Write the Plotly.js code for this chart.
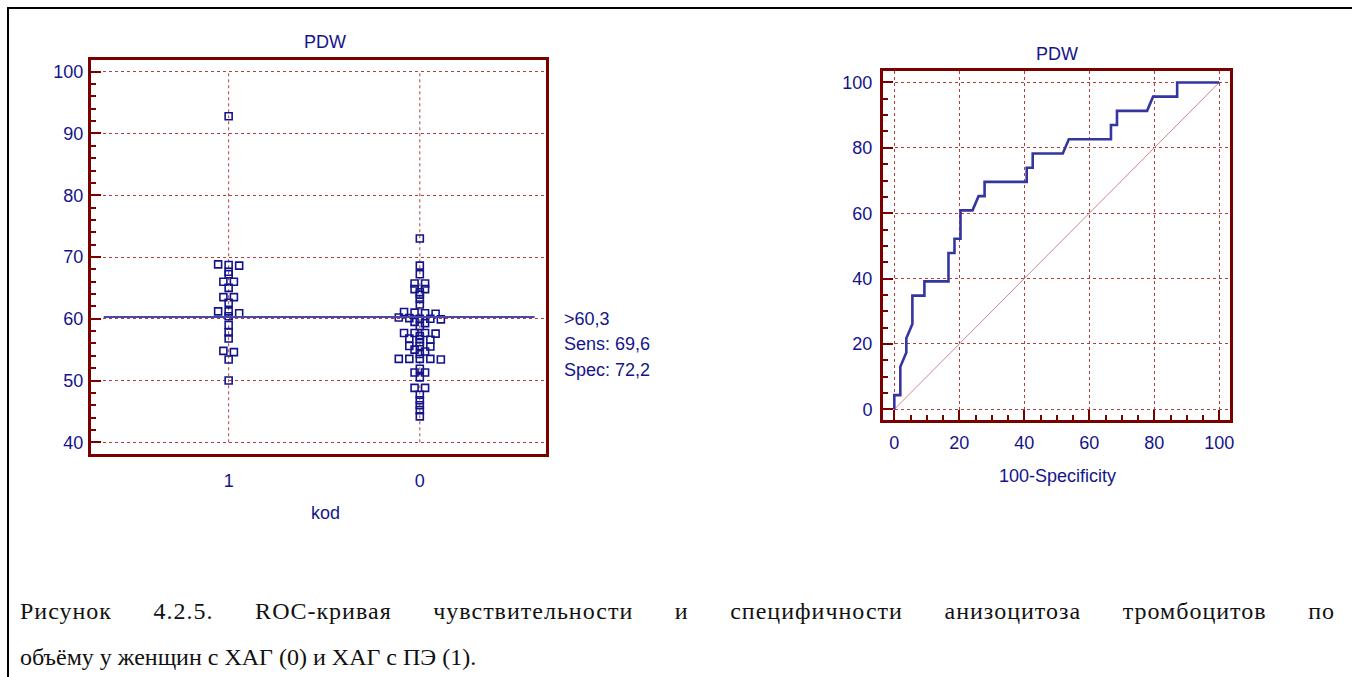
<!DOCTYPE html>
<html><head><meta charset="utf-8">
<script src="https://cdn.plot.ly/plotly-3.0.1.min.js"></script>
<style>
body{margin:0;background:#fff;}
#wrap{position:relative;width:1352px;height:677px;overflow:hidden;background:#fff;}
#chart{position:absolute;left:0;top:0;width:1352px;height:677px;}
#border{position:absolute;left:7px;top:7px;width:1400px;height:700px;border-left:2px solid #000;border-top:2px solid #000;pointer-events:none;}
.cap{position:absolute;left:20px;font-family:"Liberation Serif","Times New Roman",serif;font-size:24px;color:#111;line-height:28px;}
#cap1{top:597px;width:1315px;text-align:justify;text-align-last:justify;letter-spacing:1px;}
#cap2{top:643px;white-space:nowrap;}
</style></head>
<body>
<div id="wrap">
<div id="chart"></div>
<div id="border"></div>
<div class="cap" id="cap1">Рисунок 4.2.5. ROC-кривая чувствительности и специфичности анизоцитоза тромбоцитов по</div>
<div class="cap" id="cap2">объёму у женщин с ХАГ (0) и ХАГ с ПЭ (1).</div>
</div>
<script>
// ---- data ----
const kodLabels = ['1', '0'];
const group1 = [92.8, 68.8, 68.7, 68.6, 67.6, 67.2, 66.0, 66.0, 65.0, 63.5, 63.5, 62.6, 61.2, 61.2, 60.9, 60.4, 59.0, 57.8, 56.8, 54.8, 54.6, 53.4, 50.0];
const group0 = [73.0, 68.6, 67.2, 65.7, 65.7, 64.8, 64.8, 64.3, 63.9, 63.2, 62.3, 61.1, 61.0, 60.9, 60.8, 60.2, 60.1, 60.0, 60.0, 59.9, 59.5, 59.3, 58.8, 57.7, 57.7, 57.7, 57.6, 57.2, 56.8, 56.7, 56.6, 56.2, 55.6, 55.6, 55.5, 55.0, 54.7, 54.3, 53.5, 53.5, 53.5, 53.5, 53.4, 51.9, 51.3, 51.3, 50.5, 48.8, 48.8, 47.7, 46.8, 46.0, 45.2, 44.2];
const criterion = 60.3;
const criterionText = ['>60,3', 'Sens: 69,6', 'Spec: 72,2'];
const leftYTicks = [40, 50, 60, 70, 80, 90, 100];
const rocX = [0, 0, 1.85, 1.85, 3.7, 3.7, 5.56, 5.56, 9.26, 9.26, 16.67, 16.67, 18.52, 18.52, 20.37, 20.37, 24.07, 25.93, 27.78, 27.78, 40.74, 40.74, 42.59, 42.59, 51.85, 53.7, 66.67, 66.67, 68.52, 68.52, 77.78, 79.63, 87.04, 87.04, 100];
const rocY = [0, 4.35, 4.35, 13.04, 17.39, 21.74, 26.09, 34.78, 34.78, 39.13, 39.13, 47.83, 47.83, 52.17, 52.17, 60.87, 60.87, 65.22, 65.22, 69.57, 69.57, 73.91, 73.91, 78.26, 78.26, 82.61, 82.61, 86.96, 86.96, 91.3, 91.3, 95.65, 95.65, 100, 100];
const chanceX = [0, 100];
const chanceY = [0, 100];
const rocTicks = [0, 20, 40, 60, 80, 100];

// ---- styles ----
const NAVY = '#14148a';
const FRAME = '#7a0000';
const GRID = '#b04040';
const FONT = 'Liberation Sans, Arial, sans-serif';
const W = 1352, H = 677;
const px = v => v / W, py = v => 1 - v / H;

// dot-plot layout: cluster close values into rows, spread horizontally
function swarm(values, center, step, tol) {
  const sorted = values.slice().sort((a, b) => b - a);
  const rows = [];
  sorted.forEach(v => {
    const r = rows[rows.length - 1];
    if (r && r[0] - v <= tol + 1e-9) r.push(v); else rows.push([v]);
  });
  const xs = [], ys = [];
  rows.forEach(r => r.forEach((v, i) => { xs.push(center + (i - (r.length - 1) / 2) * step); ys.push(v); }));
  return {x: xs, y: ys};
}
const s1 = swarm(group1, 1, 0.055, 0.35);
const s0 = swarm(group0, 2, 0.055, 0.35);

const marker = {symbol: 'square-open', size: 7, color: NAVY, line: {width: 1.6, color: NAVY}};
const traces = [
  {x: s1.x, y: s1.y, type: 'scatter', mode: 'markers', marker, xaxis: 'x', yaxis: 'y', hoverinfo: 'y'},
  {x: s0.x, y: s0.y, type: 'scatter', mode: 'markers', marker, xaxis: 'x', yaxis: 'y', hoverinfo: 'y'},
  {x: chanceX, y: chanceY, type: 'scatter', mode: 'lines', line: {color: '#c98a8a', width: 1}, xaxis: 'x2', yaxis: 'y2'},
  {x: rocX, y: rocY, type: 'scatter', mode: 'lines', line: {color: '#3535a0', width: 2.6}, xaxis: 'x2', yaxis: 'y2'}
];

const tickFont = {family: FONT, size: 18, color: NAVY};
const frameAxis = {showline: true, mirror: true, linecolor: FRAME, linewidth: 3, zeroline: false, fixedrange: true};

const shapes = [];
// vertical category gridlines (only between 40 and 100)
[1, 2].forEach(c => shapes.push({type: 'line', xref: 'x', yref: 'y', x0: c, x1: c, y0: leftYTicks[0], y1: leftYTicks[leftYTicks.length - 1], line: {color: GRID, width: 1, dash: 'dot'}, layer: 'below'}));
// criterion line
shapes.push({type: 'line', xref: 'x domain', yref: 'y', x0: 0.028, x1: 0.975, y0: criterion, y1: criterion, line: {color: '#4848a8', width: 2}, layer: 'above'});

const annFont = {family: FONT, size: 18, color: NAVY};
const ann = (text, x, y, xanchor) => ({text, x: px(x), y: py(y), xref: 'paper', yref: 'paper', xanchor: xanchor || 'center', yanchor: 'middle', showarrow: false, font: annFont});
const annotations = [
  ann('PDW', 325, 42),
  ann('kod', 325, 513),
  ann('PDW', 1057, 54),
  ann('100-Specificity', 1057, 476)
];
criterionText.forEach((t, i) => annotations.push(ann(t, 562, 319 + i * 25.5, 'left')));

const layout = {
  width: W, height: H, margin: {l: 0, r: 0, t: 0, b: 0},
  paper_bgcolor: '#fff', plot_bgcolor: '#fff', showlegend: false,
  xaxis: Object.assign({}, frameAxis, {domain: [px(91), px(546)], range: [0.28, 2.66], tickvals: [1, 2], ticktext: kodLabels, showgrid: false, ticks: '', tickfont: tickFont, ticklabelstandoff: 8}),
  yaxis: Object.assign({}, frameAxis, {domain: [1 - 454 / H, 1 - 60 / H], range: [38.1, 101.9], tickvals: leftYTicks, showgrid: true, gridcolor: GRID, griddash: 'dot', gridwidth: 1, ticks: 'inside', ticklen: 10, tickwidth: 2, tickcolor: FRAME, tickfont: tickFont, ticklabelstandoff: 1,
    minor: {dtick: 2, tick0: 40, ticks: 'inside', ticklen: 5, tickwidth: 2, tickcolor: FRAME, showgrid: false}}),
  xaxis2: Object.assign({}, frameAxis, {anchor: 'y2', domain: [px(883), px(1230)], range: [-3.48, 103.3], tickvals: rocTicks, showgrid: true, gridcolor: GRID, griddash: 'dot', gridwidth: 1, ticks: 'inside', ticklen: 10, tickwidth: 2, tickcolor: FRAME, tickfont: tickFont, ticklabelstandoff: 4,
    minor: {dtick: 5, tick0: 0, ticks: 'inside', ticklen: 5, tickwidth: 2, tickcolor: FRAME, showgrid: false}}),
  yaxis2: Object.assign({}, frameAxis, {anchor: 'x2', domain: [1 - 420 / H, 1 - 71 / H], range: [-3.27, 103.5], tickvals: rocTicks, showgrid: true, gridcolor: GRID, griddash: 'dot', gridwidth: 1, ticks: 'inside', ticklen: 10, tickwidth: 2, tickcolor: FRAME, tickfont: tickFont, ticklabelstandoff: 4,
    minor: {dtick: 5, tick0: 0, ticks: 'inside', ticklen: 5, tickwidth: 2, tickcolor: FRAME, showgrid: false}}),
  shapes, annotations
};
Plotly.newPlot('chart', traces, layout, {staticPlot: true, displayModeBar: false});
</script>
</body></html>
